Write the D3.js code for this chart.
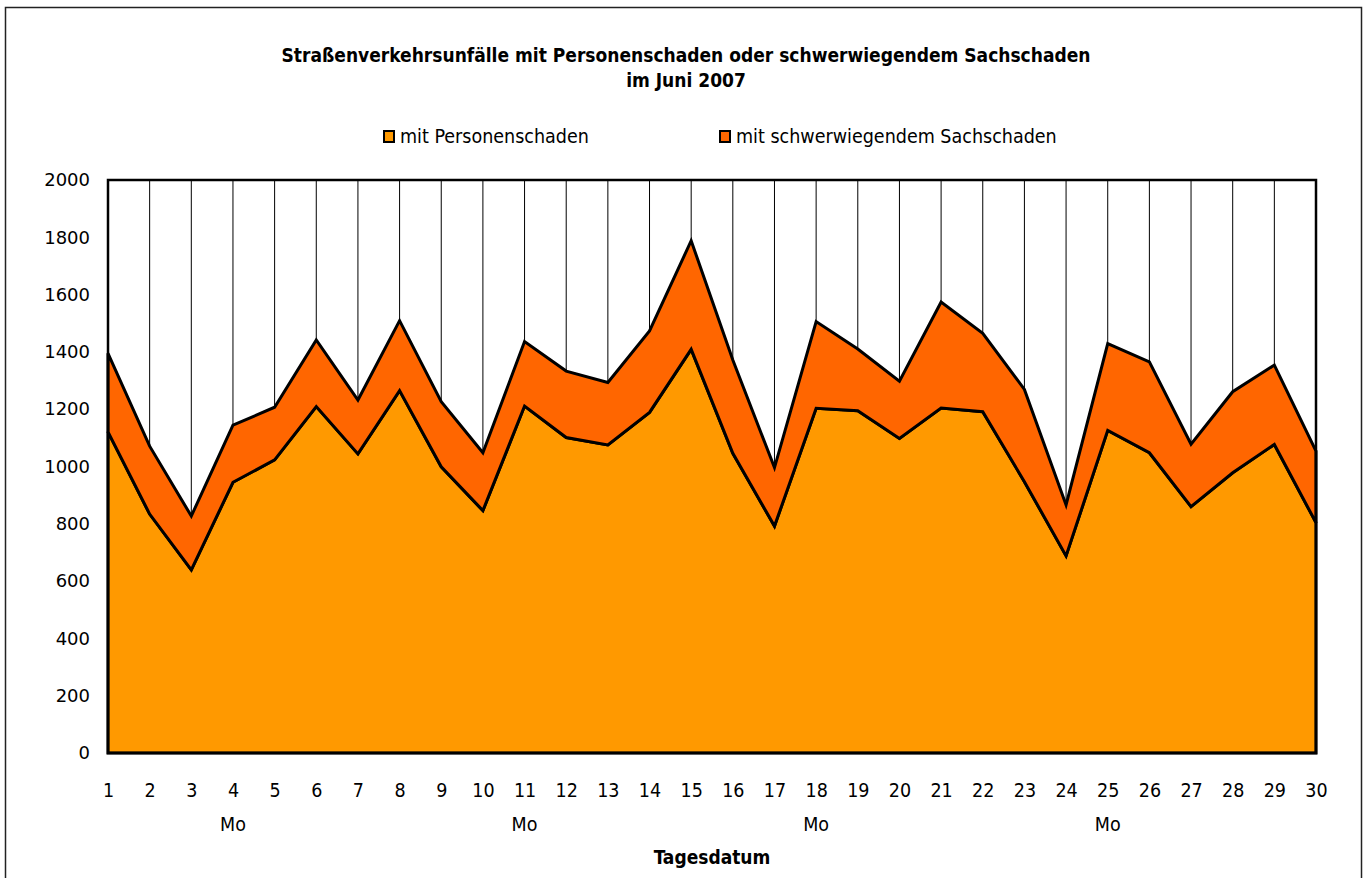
<!DOCTYPE html>
<html>
<head>
<meta charset="utf-8">
<script src="https://cdn.jsdelivr.net/npm/d3@7"></script>
<style>
  body { margin: 0; background: #fff; }
  .cond { font-family: "DejaVu Sans Condensed", "Liberation Sans Narrow", "Roboto", sans-serif; }
</style>
</head>
<body>
<div id="chart"></div>
<script>
// days of June 2007
var days = d3.range(1, 31)
// Mondays get an extra label
var mondays = [4, 11, 18, 25]
// accidents with personal injury
var personen = [1121, 834, 639, 945, 1023, 1209, 1044, 1265, 999, 846,
                1211, 1101, 1075, 1189, 1409, 1046, 792, 1203, 1195, 1098,
                1204, 1191, 947, 688, 1126, 1048, 860, 978, 1077, 804]
// total incl. serious property damage (top of the stack)
var gesamt = [1395, 1071, 827, 1144, 1207, 1442, 1232, 1509, 1226, 1048,
              1436, 1333, 1293, 1473, 1788, 1372, 996, 1506, 1410, 1298,
              1574, 1465, 1269, 866, 1429, 1365, 1078, 1261, 1354, 1054]
var yTicks = [0, 200, 400, 600, 800, 1000, 1200, 1400, 1600, 1800, 2000]
var seriesNames = ["mit Personenschaden", "mit schwerwiegendem Sachschaden"]
var colors = ["#FF9900", "#FF6600"]

var W = 1366, H = 878
var margin = {top: 180, right: 50, bottom: 125, left: 108}
var width = W - margin.left - margin.right
var height = H - margin.top - margin.bottom

var svg = d3.select("#chart").append("svg")
    .attr("width", W).attr("height", H)

// outer frame
svg.append("rect")
    .attr("x", 5.5).attr("y", 7.5)
    .attr("width", 1356).attr("height", 880)
    .attr("fill", "none").attr("stroke", "#222").attr("stroke-width", 1.5)

var g = svg.append("g")
    .attr("transform", "translate(" + margin.left + "," + margin.top + ")")

var x = d3.scaleLinear().domain([1, 30]).range([0, width])
var y = d3.scaleLinear().domain([0, 2000]).range([height, 0])

// vertical drop lines from top of plot
g.selectAll(".vline")
    .data(days).enter().append("line")
    .attr("x1", function(d) { return x(d) }).attr("x2", function(d) { return x(d) })
    .attr("y1", 0).attr("y2", height)
    .attr("stroke", "#000").attr("stroke-width", 1)

var rows = days.map(function(d, i) {
    return {day: d, p: personen[i], s: gesamt[i] - personen[i]}
})
var stack = d3.stack().keys(["p", "s"])(rows)

var area = d3.area()
    .x(function(d) { return x(d.data.day) })
    .y0(function(d) { return y(d[0]) })
    .y1(function(d) { return y(d[1]) })

g.selectAll(".layer")
    .data(stack).enter().append("path")
    .attr("d", area)
    .attr("fill", function(d, i) { return colors[i] })
    .attr("stroke", "#000").attr("stroke-width", 3)
    .attr("stroke-linejoin", "miter")

// plot border
g.append("rect")
    .attr("x", 0).attr("y", 0)
    .attr("width", width).attr("height", height)
    .attr("fill", "none").attr("stroke", "#000").attr("stroke-width", 2.5)

// y axis labels
var yAxis = d3.axisLeft(y).tickValues(yTicks).tickSize(0).tickPadding(18)
    .tickFormat(d3.format("d"))
g.append("g").call(yAxis)
    .call(function(a) { a.select(".domain").remove() })
    .selectAll("text")
    .attr("font-family", "DejaVu Sans, Verdana, sans-serif")
    .attr("font-size", 18).attr("fill", "#000")

// x axis labels
var xAxis = d3.axisBottom(x).tickValues(days).tickSize(0).tickPadding(30)
    .tickFormat(d3.format("d"))
g.append("g").attr("transform", "translate(0," + height + ")")
    .call(xAxis)
    .call(function(a) { a.select(".domain").remove() })
    .selectAll("text")
    .attr("class", "cond")
    .attr("font-size", 19.5).attr("fill", "#000")

g.selectAll(".mo")
    .data(mondays).enter().append("text")
    .attr("class", "cond")
    .attr("x", function(d) { return x(d) })
    .attr("y", height + 78)
    .attr("text-anchor", "middle")
    .attr("font-size", 19.5)
    .text("Mo")

svg.append("text")
    .attr("class", "cond")
    .attr("x", margin.left + width / 2).attr("y", 864)
    .attr("text-anchor", "middle")
    .attr("font-size", 19).attr("font-weight", "bold")
    .text("Tagesdatum")

// title
var title = svg.append("text")
    .attr("class", "cond")
    .attr("text-anchor", "middle")
    .attr("font-size", 19).attr("font-weight", "bold")
title.append("tspan").attr("x", 686).attr("y", 62)
    .text("Straßenverkehrsunfälle mit Personenschaden oder schwerwiegendem Sachschaden")
title.append("tspan").attr("x", 686).attr("y", 87)
    .text("im Juni 2007")

// legend
var legendX = [384, 720]
var leg = svg.selectAll(".leg")
    .data(seriesNames).enter().append("g")
    .attr("transform", function(d, i) { return "translate(" + legendX[i] + ",131)" })
leg.append("rect")
    .attr("width", 10).attr("height", 11)
    .attr("fill", function(d, i) { return colors[i] })
    .attr("stroke", "#000").attr("stroke-width", 2)
leg.append("text")
    .attr("class", "cond")
    .attr("x", 16).attr("y", 12)
    .attr("font-size", 19.5)
    .text(function(d) { return d })
</script>
</body>
</html>
